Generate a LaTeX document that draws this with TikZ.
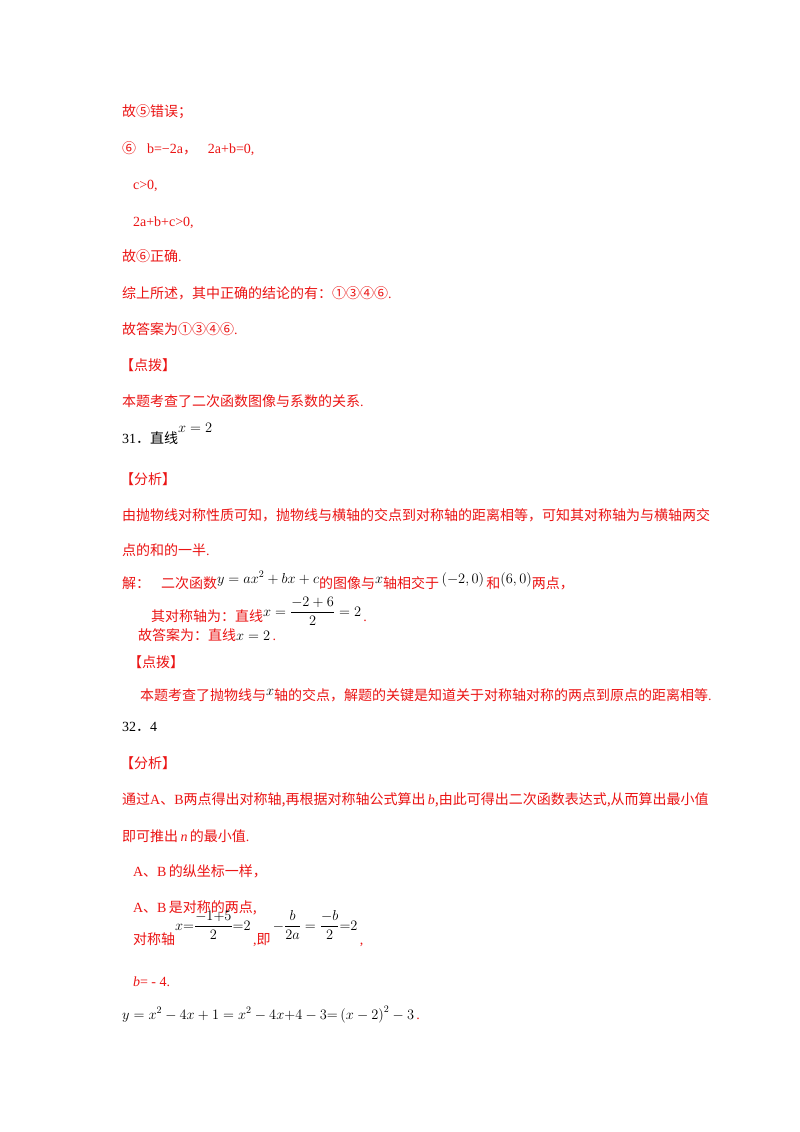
\documentclass[tikz,border=0pt]{standalone}
\usepackage{amsmath}
\usepackage{fontspec}
\setmainfont{Liberation Serif}
\newfontfamily\cjk{Noto Sans CJK SC}
\newcommand{\C}[1]{{\cjk #1}}
\newcommand{\K}[1]{\textcolor{black}{#1}}
\definecolor{tred}{RGB}{235,20,20}
\begin{document}
\begin{tikzpicture}[x=1pt,y=-1pt,
  ln/.style={anchor=base west,inner sep=0pt,text=tred,font=\fontsize{14}{16}\selectfont}]
\useasboundingbox[fill=white] (0,0) rectangle (800,1132);
\node[ln] (l1) at (122,116) {\C{故⑤错误；}};
\node[ln] (l2) at (122,153) {\C{⑥}∵b=−2a\C{，}∴2a+b=0,};
\node[ln] (l3) at (122,189) {∵c>0,};
\node[ln] (l4) at (122,226) {∴2a+b+c>0,};
\node[ln] (l5) at (122,261) {\C{故⑥正确}.};
\node[ln] (l6) at (122,298) {\C{综上所述，其中正确的结论的有：①③④⑥}.};
\node[ln] (l7) at (122,334) {\C{故答案为①③④⑥}.};
\node[ln] (l8) at (120,370) {\C{【点拨】}};
\node[ln] (l9) at (122,406) {\C{本题考查了二次函数图像与系数的关系}.};
\node[ln,text=black] (l10) at (122,443) {31\C{．直线}};
\node[ln,text=black] (l10m) at (178,432) {$x=2$};
\node[ln] (l11) at (120,484) {\C{【分析】}};
\node[ln] (l12) at (122,520) {\C{由抛物线对称性质可知，抛物线与横轴的交点到对称轴的距离相等，可知其对称轴为与横轴两交}};
\node[ln] (l13) at (122,555) {\C{点的和的一半}.};
\node[ln] (l14) at (122,588) {\C{解：}∵\C{二次函数}\raisebox{5pt}{\K{$y=ax^2+bx+c$}}\C{的图像与}\raisebox{5pt}{\K{$x$}}\C{轴相交于}\,\raisebox{5pt}{\K{$(-2,0)$}}\,\C{和}\raisebox{5pt}{\K{$(6,0)$}}\C{两点，}};
\node[ln] (l15) at (140,621) {∴\C{其对称轴为：直线}\raisebox{5pt}{\K{$x=\dfrac{-2+6}{2}=2$}}\,.};
\node[ln] (l16) at (138,640) {\C{故答案为：直线}\K{$x=2$}\,.};
\node[ln] (l17) at (128,667) {\C{【点拨】}};
\node[ln] (l18) at (140,700) {\C{本题考查了抛物线与}\raisebox{5pt}{\K{$x$}}\C{轴的交点，解题的关键是知道关于对称轴对称的两点到原点的距离相等}.};
\node[ln,text=black] (l19) at (122,731) {32\C{．}4};
\node[ln] (l20) at (120,768) {\C{【分析】}};
\node[ln] (l21) at (122,804) {\C{通过}A\C{、}B\C{两点得出对称轴}\C{,}\C{再根据对称轴公式算出}\,\textit{b}\C{,由此可得出二次函数表达式,从而算出最小值}};
\node[ln] (l22) at (122,841) {\C{即可推出}\,\textit{n}\,\C{的最小值}.};
\node[ln] (l23) at (122,876) {∵A\C{、}B\,\C{的纵坐标一样}\C{，}};
\node[ln] (l24) at (122,912) {∴A\C{、}B\,\C{是对称的两点}\C{,}};
\node[ln] (l25) at (122,944) {∴\C{对称轴}\raisebox{14pt}{\K{$x{=}\dfrac{-1{+}5}{2}{=}2$}}\,,\C{即}\,\raisebox{14pt}{\K{$-\dfrac{b}{2a}=\dfrac{-b}{2}{=}2$}}\,,};
\node[ln] (l26) at (122,986) {∴\textit{b}= - 4.};
\node[ln,text=black] (l27) at (122,1019) {$y=x^2-4x+1=x^2-4x{+}4-3{=}\left(x-2\right)^2-3$\,\textcolor{tred}{.}};
\end{tikzpicture}
\end{document}
